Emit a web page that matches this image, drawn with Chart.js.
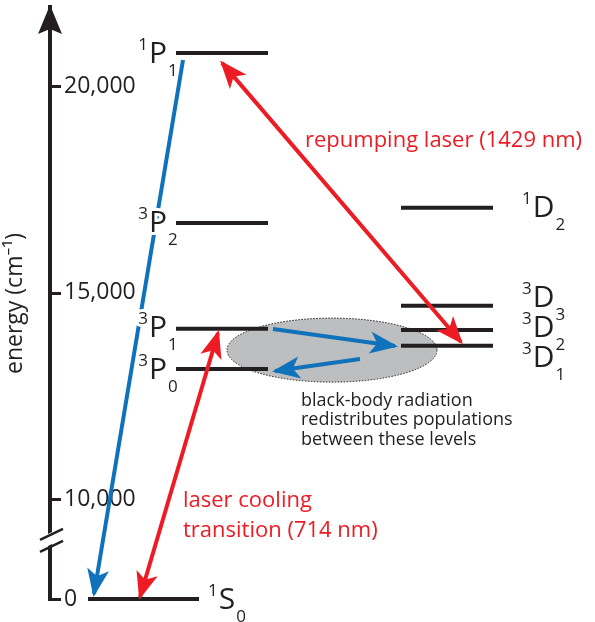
<!DOCTYPE html>
<html>
<head>
<meta charset="utf-8">
<script src="https://cdn.jsdelivr.net/npm/chart.js@4"></script>
<style>
  html, body { margin: 0; padding: 0; background: #fff; }
</style>
</head>
<body>
<canvas id="chart" width="595" height="622"></canvas>
<script>
// energy levels (cm-1)
const LEVELS       = ["1S0", "3P0", "3P1", "3P2", "1P1", "3D1", "3D2", "3D3", "1D2"];
const LEVEL_SUP    = ["1", "3", "3", "3", "1", "3", "3", "3", "1"];
const LEVEL_L      = ["S", "P", "P", "P", "P", "D", "D", "D", "D"];
const LEVEL_SUB    = ["0", "0", "1", "2", "1", "1", "2", "3", "2"];
const LEVEL_ENERGY = [0, 13150, 14120, 16680, 20800, 13710, 14090, 14680, 17050];

const TICK_VALUES = [0, 10000, 15000, 20000];
const TICK_LABELS = ["0", "10,000", "15,000", "20,000"];

// transitions (start / end energy of each arrow)
const ARROWS      = ["1P1 decay", "repump 1429 nm", "cooling 714 nm", "bbr up", "bbr down"];
const ARROW_FROM  = [20630, 20560, 14020, 14116, 13390];
const ARROW_TO    = [500, 13800, 200, 13705, 13100];

// layout / styling
const INK = "#231f20", RED = "#ed1c24", BLUE = "#0f72ba", GREY = "#bcbec0";
const FONT = "'Open Sans', 'Noto Sans', sans-serif";
const LEVEL_X    = [[88,199],[176,268],[176,268],[176,268],[176,268],[401,493],[401,493],[401,493],[401,493]];
const LABEL_SIDE = ["r","l","l","l","l","r","r","r","r"];
const LABEL_DX   = [9, 9, 9, 9, 9, 29, 29, 29, 29];
const LABEL_DY   = [10, 10, 8, 9, 10, 21, 7, 1, 9];
const ARROW_X     = [[183,94],[222,461],[218,140],[273,395],[360,275]];
const ARROW_COLOR = [BLUE, RED, RED, BLUE, BLUE];
const ARROW_HEADS = [[0,1],[1,1],[1,1],[0,1],[0,1]];
const BAND = { x0: 227, x1: 437, e0: 12830, e1: 14380 };

// axis break below 10,000
const BREAK_AT = 10000, BREAK_K = 0.2421;
const brk = e => e >= BREAK_AT ? e : BREAK_AT - (BREAK_AT - e) * BREAK_K;

const datasets = [];
LEVELS.forEach((name, i) => {
  const y = brk(LEVEL_ENERGY[i]);
  datasets.push({
    label: name, kind: "level", idx: i,
    data: [{x: LEVEL_X[i][0], y}, {x: LEVEL_X[i][1], y}],
    borderColor: INK, borderWidth: 4, pointRadius: 0, order: 2, clip: false
  });
});
ARROWS.forEach((name, i) => {
  datasets.push({
    label: name, kind: "arrow", idx: i,
    data: [{x: ARROW_X[i][0], y: brk(ARROW_FROM[i])}, {x: ARROW_X[i][1], y: brk(ARROW_TO[i])}],
    borderColor: ARROW_COLOR[i], borderWidth: 4, pointRadius: 0, order: 1, clip: false
  });
});

function head(ctx, tip, from, color){
  const dx = tip.x - from.x, dy = tip.y - from.y;
  const len = Math.hypot(dx, dy), ux = dx/len, uy = dy/len;
  const nx = -uy, ny = ux;
  const L = 28, W = 11, notch = 7;
  const tx = tip.x + ux*3, ty = tip.y + uy*3;
  ctx.beginPath();
  ctx.moveTo(tx, ty);
  ctx.lineTo(tx - ux*L + nx*W, ty - uy*L + ny*W);
  ctx.lineTo(tx - ux*(L-notch), ty - uy*(L-notch));
  ctx.lineTo(tx - ux*L - nx*W, ty - uy*L - ny*W);
  ctx.closePath();
  ctx.fillStyle = color;
  ctx.fill();
}

// text with a white halo so lines behind it are knocked out
function haloText(ctx, s, x, y){
  ctx.strokeText(s, x, y);
  ctx.fillText(s, x, y);
}

function termLabel(ctx, i, px0, px1, py){
  const base = py + LABEL_DY[i];
  ctx.font = "30px " + FONT;
  const wL = ctx.measureText(LEVEL_L[i]).width;
  ctx.font = "17px " + FONT;
  const wSup = ctx.measureText(LEVEL_SUP[i]).width;
  let xL;
  if (LABEL_SIDE[i] === "l") xL = px0 - LABEL_DX[i] - wL;
  else xL = px1 + LABEL_DX[i] + wSup + 1;
  ctx.fillStyle = INK;
  ctx.strokeStyle = "#fff";
  ctx.lineWidth = 6;
  ctx.lineJoin = "round";
  ctx.textBaseline = "alphabetic";
  ctx.textAlign = "left";
  ctx.font = "30px " + FONT;
  haloText(ctx, LEVEL_L[i], xL, base);
  ctx.font = "17px " + FONT;
  haloText(ctx, LEVEL_SUP[i], xL - wSup - 1, base - 13);
  ctx.fillText(LEVEL_SUB[i], xL + wL + 1, base + 13);
}

const diagram = {
  id: "diagram",
  beforeDatasetsDraw(chart){
    const {ctx, scales: {x, y}} = chart;
    const xa = x.getPixelForValue(BAND.x0), xb = x.getPixelForValue(BAND.x1);
    const ya = y.getPixelForValue(brk(BAND.e1)), yb = y.getPixelForValue(brk(BAND.e0));
    ctx.save();
    ctx.beginPath();
    ctx.ellipse((xa+xb)/2, (ya+yb)/2, (xb-xa)/2, (yb-ya)/2, 0, 0, Math.PI*2);
    ctx.fillStyle = GREY;
    ctx.fill();
    ctx.setLineDash([1.5, 1.5]);
    ctx.lineWidth = 1;
    ctx.strokeStyle = INK;
    ctx.stroke();
    ctx.restore();
  },
  afterDatasetsDraw(chart){
    const ctx = chart.ctx;
    ctx.save();
    // arrow heads first, then the term labels on top
    chart.data.datasets.forEach((ds, di) => {
      if (ds.kind !== "arrow") return;
      const pts = chart.getDatasetMeta(di).data;
      const h = ARROW_HEADS[ds.idx];
      if (h[0]) head(ctx, pts[0], pts[1], ARROW_COLOR[ds.idx]);
      if (h[1]) head(ctx, pts[1], pts[0], ARROW_COLOR[ds.idx]);
    });
    chart.data.datasets.forEach((ds, di) => {
      if (ds.kind !== "level") return;
      const pts = chart.getDatasetMeta(di).data;
      termLabel(ctx, ds.idx, pts[0].x, pts[1].x, pts[0].y);
    });
    ctx.restore();
  },
  afterDraw(chart){
    const {ctx, scales: {y}} = chart;
    const ax = y.right;
    ctx.save();
    // tick marks
    ctx.strokeStyle = INK;
    ctx.lineWidth = 3;
    y.ticks.forEach(t => {
      const py = Math.round(y.getPixelForValue(t.value)) + 0.5;
      ctx.beginPath(); ctx.moveTo(ax, py); ctx.lineTo(ax + 11, py); ctx.stroke();
    });
    // arrow head on the axis
    ctx.beginPath();
    ctx.moveTo(ax, y.top - 2);
    ctx.lineTo(ax + 12, y.top + 27);
    ctx.lineTo(ax, y.top + 22);
    ctx.lineTo(ax - 12, y.top + 27);
    ctx.closePath();
    ctx.fillStyle = INK;
    ctx.fill();
    // axis break
    const yb = y.getPixelForValue(brk(6300));
    ctx.fillStyle = "#fff";
    ctx.beginPath();
    ctx.moveTo(ax - 4, yb - 1); ctx.lineTo(ax + 4, yb - 5);
    ctx.lineTo(ax + 4, yb + 7); ctx.lineTo(ax - 4, yb + 11);
    ctx.closePath(); ctx.fill();
    ctx.lineWidth = 2.5;
    ctx.beginPath();
    ctx.moveTo(ax - 10, yb + 4); ctx.lineTo(ax + 13, yb - 7);
    ctx.moveTo(ax - 10, yb + 16); ctx.lineTo(ax + 13, yb + 5);
    ctx.stroke();
    // annotations
    ctx.textAlign = "left";
    ctx.textBaseline = "alphabetic";
    ctx.fillStyle = RED;
    ctx.font = "22px " + FONT;
    ctx.fillText("repumping laser (1429 nm)", 305, 147);
    ctx.fillText("laser cooling", 183, 507);
    ctx.fillText("transition (714 nm)", 183, 537);
    ctx.fillStyle = INK;
    ctx.font = "18px " + FONT;
    ctx.fillText("black-body radiation", 301, 406);
    ctx.fillText("redistributes populations", 301, 425);
    ctx.fillText("between these levels", 301, 445);
    ctx.restore();
  }
};

new Chart(document.getElementById("chart"), {
  type: "line",
  data: { datasets },
  options: {
    responsive: false,
    animation: false,
    events: [],
    layout: { padding: { top: 7, bottom: 22, left: 0, right: 0 } },
    plugins: { legend: { display: false }, tooltip: { enabled: false } },
    elements: { line: { tension: 0, borderCapStyle: "butt" } },
    scales: {
      x: { type: "linear", min: 50, max: 595, display: false },
      y: {
        type: "linear", min: 7554.5, max: 21913,
        afterFit: s => { s.width = 50; s.paddingTop = 0; s.paddingBottom = 0; },
        afterBuildTicks: s => { s.ticks = TICK_VALUES.map(v => ({ value: brk(v) })); },
        grid: { display: false },
        border: { display: true, width: 4, color: INK },
        ticks: {
          mirror: true, padding: 14, autoSkip: false, color: INK,
          font: { family: FONT, size: 23 },
          callback: (v, i) => TICK_LABELS[i]
        },
        title: {
          display: true, text: "energy (cm⁻¹)", color: INK,
          font: { family: FONT, size: 23 }, padding: { top: 2, bottom: 0 }
        }
      }
    }
  },
  plugins: [diagram]
});
</script>
</body>
</html>
